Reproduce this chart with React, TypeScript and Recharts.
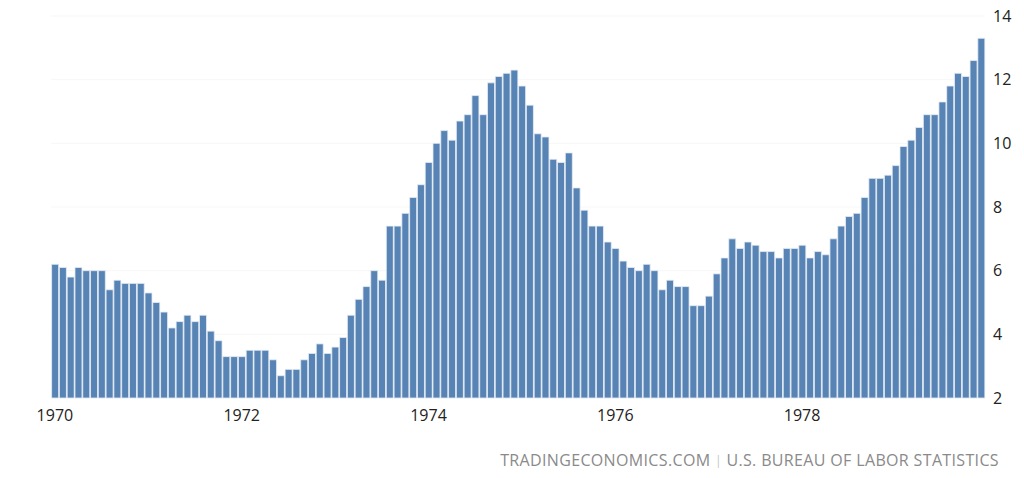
import React from "react";
import { ComposedChart, Bar, XAxis, YAxis, CartesianGrid } from "recharts";

const years = ["1970", "1971", "1972", "1973", "1974", "1975", "1976", "1977", "1978", "1979"];
const months = ["01", "02", "03", "04", "05", "06", "07", "08", "09", "10", "11", "12"];

const v1970 = [6.2, 6.1, 5.8, 6.1, 6.0, 6.0, 6.0, 5.4, 5.7, 5.6, 5.6, 5.6];
const v1971 = [5.3, 5.0, 4.7, 4.2, 4.4, 4.6, 4.4, 4.6, 4.1, 3.8, 3.3, 3.3];
const v1972 = [3.3, 3.5, 3.5, 3.5, 3.2, 2.7, 2.9, 2.9, 3.2, 3.4, 3.7, 3.4];
const v1973 = [3.6, 3.9, 4.6, 5.1, 5.5, 6.0, 5.7, 7.4, 7.4, 7.8, 8.3, 8.7];
const v1974 = [9.4, 10.0, 10.4, 10.1, 10.7, 10.9, 11.5, 10.9, 11.9, 12.1, 12.2, 12.3];
const v1975 = [11.8, 11.2, 10.3, 10.2, 9.5, 9.4, 9.7, 8.6, 7.9, 7.4, 7.4, 6.9];
const v1976 = [6.7, 6.3, 6.1, 6.0, 6.2, 6.0, 5.4, 5.7, 5.5, 5.5, 4.9, 4.9];
const v1977 = [5.2, 5.9, 6.4, 7.0, 6.7, 6.9, 6.8, 6.6, 6.6, 6.4, 6.7, 6.7];
const v1978 = [6.8, 6.4, 6.6, 6.5, 7.0, 7.4, 7.7, 7.8, 8.3, 8.9, 8.9, 9.0];
const v1979 = [9.3, 9.9, 10.1, 10.5, 10.9, 10.9, 11.3, 11.8, 12.2, 12.1, 12.6, 13.3];

const yearValues = [v1970, v1971, v1972, v1973, v1974, v1975, v1976, v1977, v1978, v1979];

const xTicks = ["1970-01", "1972-01", "1974-01", "1976-01", "1978-01"];
const yTicks = [2, 4, 6, 8, 10, 12, 14];

const data = years.flatMap((y, yi) =>
  months.map((m, mi) => ({ month: `${y}-${m}`, value: yearValues[yi][mi] }))
);

const FONT = "'Open Sans', 'DejaVu Sans', sans-serif";

export default function App() {
  return (
    <div
      style={{
        position: "fixed",
        left: 0,
        top: 0,
        width: 1024,
        height: 478,
        background: "#ffffff",
        fontFamily: FONT,
      }}
    >
      <ComposedChart
        width={1024}
        height={478}
        data={data}
        margin={{ top: 16, right: 0, bottom: 0, left: 51 }}
        barCategoryGap="8%"
      >
        <CartesianGrid vertical={false} stroke="#f7f7f7" />
        <XAxis
          dataKey="month"
          ticks={xTicks}
          interval={0}
          tickFormatter={(v: string) => v.slice(0, 4)}
          axisLine={false}
          tickLine={false}
          tickMargin={6}
          height={80}
          tick={{ fill: "#222", fontSize: 16, fontFamily: FONT }}
        />
        <YAxis
          orientation="right"
          domain={[2, 14]}
          ticks={yTicks}
          interval={0}
          axisLine={false}
          tickLine={false}
          width={39}
          tickMargin={2}
          tick={{ fill: "#222", fontSize: 16, fontFamily: FONT }}
        />
        <Bar
          dataKey="value"
          fill="#5883b5"
          stroke="#e6edf5"
          strokeWidth={0.8}
          isAnimationActive={false}
        />
      </ComposedChart>
      <div
        style={{
          position: "absolute",
          right: 25,
          top: 449,
          fontSize: 16,
          color: "#8a8a8a",
          letterSpacing: 0.35,
          fontFamily: FONT,
          whiteSpace: "nowrap",
        }}
      >
        TRADINGECONOMICS.COM{" "}
        <span style={{ color: "#c4c4c4", fontSize: 12, position: "relative", top: -1 }}>|</span>{" "}
        U.S. BUREAU OF LABOR STATISTICS
      </div>
    </div>
  );
}
